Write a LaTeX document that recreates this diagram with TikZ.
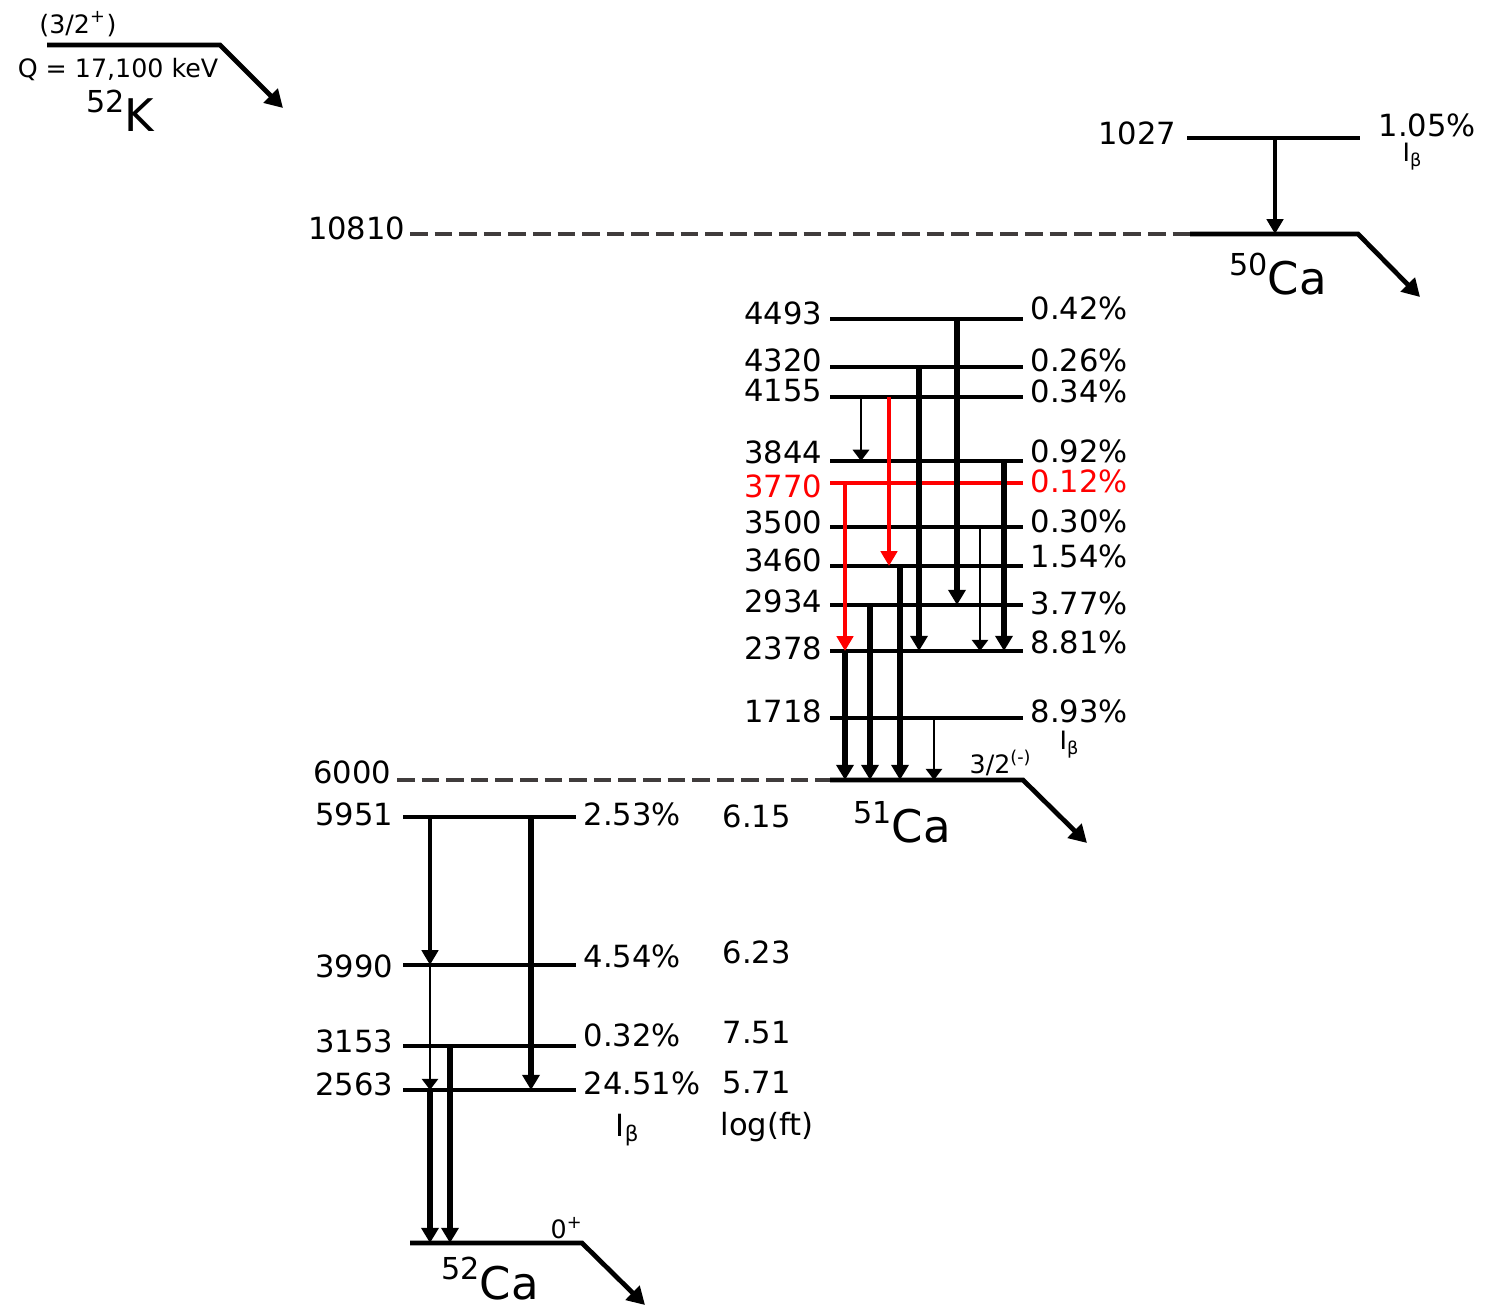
\documentclass[tikz,border=0pt]{standalone}
\usepackage{fontspec}
\setmainfont{DejaVu Sans}
\usetikzlibrary{arrows.meta}
\definecolor{cDash}{RGB}{64,60,60}
\definecolor{cRed}{RGB}{255,0,0}
\newcommand{\nuc}[2]{\raisebox{5.5pt}{\fontsize{8.6}{9}\selectfont #1}#2}

\begin{document}
\begin{tikzpicture}[x=0.1mm, y=-0.1mm,
  every node/.style={inner sep=0pt, font=\fontsize{8.7}{10}\selectfont},
  sm/.style={font=\fontsize{7.2}{8}\selectfont},
  big/.style={font=\fontsize{12.8}{14}\selectfont, anchor=base},
  lvl/.style={line width=1.35pt},
  dlvl/.style={line width=1.35pt, draw=cDash, dash pattern=on 5pt off 2pt},
  gam/.style={line width=1.7pt, -{Triangle[length=4.3pt,width=4.8pt]}},
  gamm/.style={line width=1.1pt, -{Triangle[length=4.2pt,width=4.6pt]}},
  gamt/.style={line width=0.8pt, -{Triangle[length=3.2pt,width=4.6pt]}},
  bdec/.style={line width=1.35pt, -{Triangle[length=5pt,width=5.5pt]}}]
  \useasboundingbox (0,0) rectangle (1496,1307);

  % parent 52K
  \coordinate (k0) at (47,45);
  \coordinate (k1) at (220,45);
  \coordinate (k2) at (283,108);
  \draw[bdec] (k0) -- (k1) -- (k2);
  \node[sm] (kspin) at (78,24) {(3/2\textsuperscript{+})};
  \node[sm] (kq) at (118,70) {Q = 17,100 keV};
  \node[big] (kname) at (120,132) {\nuc{52}{K}};

  % 50Ca branch
  \coordinate (s10810) at (410,234);
  \coordinate (c50l) at (1190,234);
  \coordinate (c50r) at (1358,234);
  \coordinate (c50a) at (1420,297);
  \draw[dlvl] (s10810) -- (c50l);
  \draw[bdec] (c50l) -- (c50r) -- (c50a);
  \node[anchor=east] (e10810) at (406,228) {10810};
  \node[big] (ca50) at (1278,295) {\nuc{50}{Ca}};
  \coordinate (l1027) at (1187,138);
  \coordinate (r1027) at (1360,138);
  \draw[lvl] (l1027) -- (r1027);
  \node[anchor=east] (e1027) at (1177,133) {1027};
  \node[anchor=west] (p1027) at (1378,125) {1.05\%};
  \node[sm] (ib50) at (1413,157) {I\textsubscript{β}};
  \draw[gamm] (1275,0 |- l1027) -- (1275,0 |- c50l);

  % 51Ca branch
  \coordinate (s6000) at (397,780);
  \coordinate (g51) at (830,780);
  \coordinate (g51r) at (1023,780);
  \coordinate (g51a) at (1087,843);
  \draw[dlvl] (s6000) -- (g51);
  \draw[bdec] (g51) -- (g51r) -- (g51a);
  \node[anchor=east] (e6000) at (392,772) {6000};
  \node[sm] (spin51) at (1001,763) {3/2\textsuperscript{(-)}};
  \node[big] (ca51) at (902,843) {\nuc{51}{Ca}};
  \foreach \e/\y/\ly/\p/\py in {4493/319/313/0.42/308, 4320/367/360/0.26/360,
      4155/397/391/0.34/391, 3844/461/452/0.92/451, 3500/527/522/0.30/521,
      3460/566/560/1.54/556, 2934/605/601/3.77/603, 2378/651/648/8.81/642,
      1718/718/711/8.93/711}{
    \coordinate (l\e) at (830,\y);
    \draw[lvl] (l\e) -- (1023,\y);
    \node[anchor=east] (e\e) at (823,\ly) {\e};
    \node[anchor=west] (p\e) at (1030,\py) {\p\%};
  }
  \coordinate (l3770) at (830,483);
  \draw[lvl, cRed] (l3770) -- (1023,483);
  \node[anchor=east, text=cRed] (e3770) at (823,486) {3770};
  \node[anchor=west, text=cRed] (p3770) at (1030,481) {0.12\%};
  \node[sm] (ib51) at (1070,745) {I\textsubscript{β}};

  \draw[gamt] (861,0 |- l4155) -- (861,0 |- l3844);
  \draw[gam] (919,0 |- l4320) -- (919,0 |- l2378);
  \draw[gam] (957,0 |- l4493) -- (957,0 |- l2934);
  \draw[gam] (1004,0 |- l3844) -- (1004,0 |- l2378);
  \draw[gamt] (980,0 |- l3500) -- (980,0 |- l2378);
  \draw[gamm, cRed] (889,0 |- l4155) -- (889,0 |- l3460);
  \draw[gamm, cRed] (845,0 |- l3770) -- (845,0 |- l2378);
  \draw[gam] (845,0 |- l2378) -- (845,0 |- g51);
  \draw[gam] (870,0 |- l2934) -- (870,0 |- g51);
  \draw[gam] (900,0 |- l3460) -- (900,0 |- g51);
  \draw[gamt] (934,0 |- l1718) -- (934,0 |- g51);

  % 52Ca branch
  \coordinate (g52) at (410,1243);
  \coordinate (g52r) at (582,1243);
  \coordinate (g52a) at (645,1305);
  \draw[bdec] (g52) -- (g52r) -- (g52a);
  \node[sm] (spin52) at (567,1228) {0\textsuperscript{+}};
  \node[big] (ca52) at (490,1299) {\nuc{52}{Ca}};
  \foreach \e/\y/\ly/\p/\py/\f/\fy in {5951/817/814/2.53/814/6.15/816,
      3990/965/966/4.54/956/6.23/952, 3153/1046/1041/0.32/1035/7.51/1033,
      2563/1090/1084/24.51/1083/5.71/1083}{
    \coordinate (m\e) at (403,\y);
    \draw[lvl] (m\e) -- (576,\y);
    \node[anchor=east] (f\e) at (394,\ly) {\e};
    \node[anchor=west] (q\e) at (583,\py) {\p\%};
    \node[anchor=west] (t\e) at (722,\fy) {\f};
  }
  \node (ib52) at (628,1130) {I\textsubscript{β}};
  \node (logft) at (767,1127) {log(ft)};

  \draw[gamm] (430,0 |- m5951) -- (430,0 |- m3990);
  \draw[gam] (531,0 |- m5951) -- (531,0 |- m2563);
  \draw[gamt] (430,0 |- m3990) -- (430,0 |- m2563);
  \draw[gam] (430,0 |- m2563) -- (430,0 |- g52);
  \draw[gam] (450,0 |- m3153) -- (450,0 |- g52);
\end{tikzpicture}
\end{document}
